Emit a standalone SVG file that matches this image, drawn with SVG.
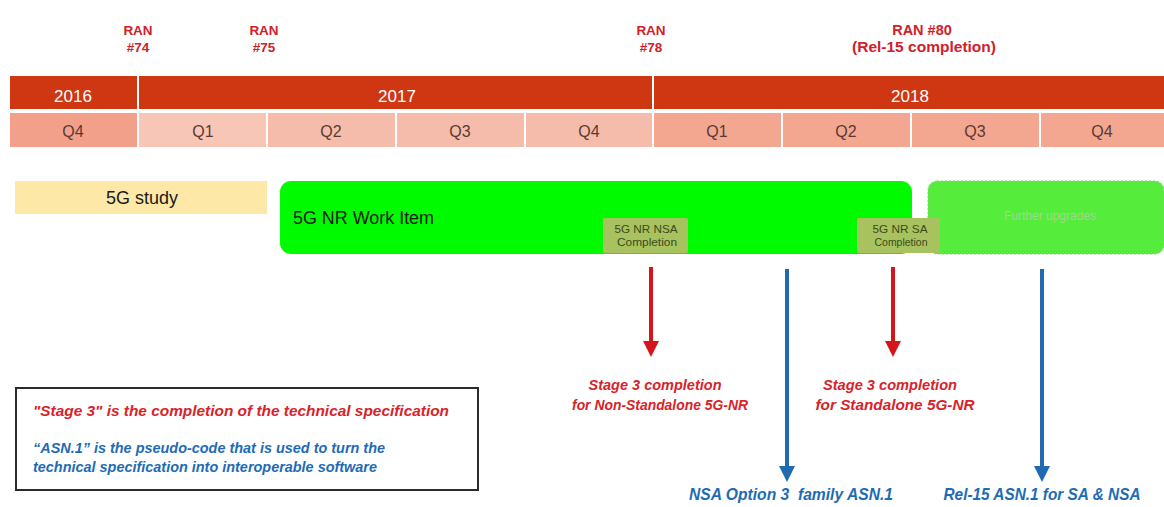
<svg xmlns="http://www.w3.org/2000/svg" width="1164" height="507" viewBox="0 0 1164 507">
<defs>
<style>
text{font-family:"Liberation Sans",Arial,sans-serif}
.ran{fill:#d0202a;font-weight:bold;font-size:13.5px;text-anchor:middle}
.ran80{fill:#d0202a;font-weight:bold;font-size:14.5px;text-anchor:middle}
.yr{fill:#ffffff;font-size:17px;text-anchor:middle}
.q{fill:#5a3a32;font-size:16px;text-anchor:middle}
.bar{fill:#1a1a1a}
.ms{fill:#3d4a1a;font-size:11px;text-anchor:middle}
.red{fill:#d8232a;font-weight:bold;font-style:italic;font-size:14.5px;text-anchor:middle}
.blue{fill:#1e6bb5;font-weight:bold;font-style:italic;font-size:17px;text-anchor:middle}
.lr{fill:#d8232a;font-weight:bold;font-style:italic;font-size:15.3px}
.lb{fill:#1e6bb5;font-weight:bold;font-style:italic;font-size:15.3px}
</style>
<marker id="hr" markerWidth="4" markerHeight="4" refX="2" refY="2" orient="auto" markerUnits="strokeWidth"><path d="M0,0 L4,2 L0,4 Z" fill="#d4161c"/></marker>
<marker id="hb" markerWidth="4" markerHeight="4" refX="2" refY="2" orient="auto" markerUnits="strokeWidth"><path d="M0,0 L4,2 L0,4 Z" fill="#1f6ab0"/></marker>
</defs>
<rect width="1164" height="507" fill="#ffffff"/>

<g id="ran-labels">
<text class="ran" x="138" y="35">RAN</text><text class="ran" x="138" y="52">#74</text>
<text class="ran" x="264" y="35">RAN</text><text class="ran" x="264" y="52">#75</text>
<text class="ran" x="651" y="35">RAN</text><text class="ran" x="651" y="52">#78</text>
<text class="ran80" x="922" y="35">RAN #80</text>
<text class="ran80" x="924" y="52" textLength="144" lengthAdjust="spacingAndGlyphs">(Rel-15 completion)</text>
</g>

<g id="timeline">
<rect x="10" y="76" width="127" height="33" fill="#cf3612"/>
<rect x="139" y="76" width="513" height="33" fill="#cf3612"/>
<rect x="654" y="76" width="510" height="33" fill="#cf3612"/>
<text class="yr" x="73" y="102">2016</text>
<text class="yr" x="397" y="102">2017</text>
<text class="yr" x="910" y="102">2018</text>
<rect x="10" y="113" width="127" height="34" fill="#f2a08a"/>
<rect x="139" y="113" width="127" height="34" fill="#f8c6b7"/>
<rect x="268" y="113" width="127" height="34" fill="#f6bcab"/>
<rect x="397" y="113" width="127" height="34" fill="#f6bcab"/>
<rect x="526" y="113" width="126" height="34" fill="#f6bcab"/>
<rect x="654" y="113" width="127" height="34" fill="#f3a690"/>
<rect x="783" y="113" width="127" height="34" fill="#f3a690"/>
<rect x="912" y="113" width="127" height="34" fill="#f3a690"/>
<rect x="1041" y="113" width="123" height="34" fill="#f3a690"/>
<text class="q" x="73" y="137">Q4</text>
<text class="q" x="203" y="137">Q1</text>
<text class="q" x="331" y="137">Q2</text>
<text class="q" x="460" y="137">Q3</text>
<text class="q" x="589" y="137">Q4</text>
<text class="q" x="717" y="137">Q1</text>
<text class="q" x="846" y="137">Q2</text>
<text class="q" x="975" y="137">Q3</text>
<text class="q" x="1102" y="137">Q4</text>
</g>

<g id="study">
<rect x="15" y="181" width="252" height="33" fill="#fde8a8"/>
<text class="bar" x="142" y="204" font-size="18" text-anchor="middle" textLength="72" lengthAdjust="spacingAndGlyphs">5G study</text>
</g>

<g id="work-item">
<rect x="280" y="181" width="632" height="73" rx="11" fill="#00fa00"/>
<text class="bar" x="293" y="224" font-size="18" textLength="141" lengthAdjust="spacingAndGlyphs">5G NR Work Item</text>
</g>

<g id="further">
<rect x="928" y="181" width="236" height="73" rx="9" fill="#55ec3c" stroke="#7ad86a" stroke-width="1" stroke-dasharray="2 2"/>
<text x="1050" y="220" text-anchor="middle" font-size="12" fill="#9fd890">Further upgrades</text>
</g>

<g id="nsa-completion">
<rect x="603" y="218" width="85" height="35" rx="2" fill="#a7c25e"/>
<text class="ms" x="646" y="233" textLength="63" lengthAdjust="spacingAndGlyphs">5G NR NSA</text>
<text class="ms" x="647" y="246" textLength="60" lengthAdjust="spacingAndGlyphs">Completion</text>
</g>

<g id="sa-completion">
<rect x="857" y="218" width="83" height="35" rx="2" fill="#a7c25e"/>
<text class="ms" x="900" y="233" textLength="55" lengthAdjust="spacingAndGlyphs">5G NR SA</text>
<text class="ms" x="901" y="246" textLength="53" lengthAdjust="spacingAndGlyphs">Completion</text>
</g>

<g id="connectors">
<line x1="651" y1="267" x2="651" y2="349" stroke="#d4161c" stroke-width="4" marker-end="url(#hr)"/>
<line x1="893" y1="267" x2="893" y2="349" stroke="#d4161c" stroke-width="4" marker-end="url(#hr)"/>
<line x1="787" y1="269" x2="787" y2="474" stroke="#1f6ab0" stroke-width="4" marker-end="url(#hb)"/>
<line x1="1042" y1="269" x2="1042" y2="474" stroke="#1f6ab0" stroke-width="4" marker-end="url(#hb)"/>
</g>

<g id="stage3-nsa">
<text class="red" x="655" y="390" textLength="133" lengthAdjust="spacingAndGlyphs">Stage 3 completion</text>
<text class="red" x="660" y="410" textLength="176" lengthAdjust="spacingAndGlyphs">for Non-Standalone 5G-NR</text>
</g>
<g id="stage3-sa">
<text class="red" x="890" y="390" textLength="134" lengthAdjust="spacingAndGlyphs">Stage 3 completion</text>
<text class="red" x="895" y="410" textLength="159" lengthAdjust="spacingAndGlyphs">for Standalone 5G-NR</text>
</g>
<g id="asn-nsa">
<text class="blue" x="791" y="500" textLength="204" lengthAdjust="spacingAndGlyphs">NSA Option 3&#160; family ASN.1</text>
</g>
<g id="asn-rel15">
<text class="blue" x="1042" y="500" textLength="197" lengthAdjust="spacingAndGlyphs">Rel-15 ASN.1 for SA &amp; NSA</text>
</g>

<g id="legend">
<rect x="16" y="388" width="462" height="102" fill="#ffffff" stroke="#2b2b2b" stroke-width="2"/>
<text class="lr" x="33" y="416" textLength="416" lengthAdjust="spacingAndGlyphs">"Stage 3" is the completion of the technical specification</text>
<text class="lb" x="33" y="453" textLength="352" lengthAdjust="spacingAndGlyphs">“ASN.1” is the pseudo-code that is used to turn the</text>
<text class="lb" x="33" y="472" textLength="344" lengthAdjust="spacingAndGlyphs">technical specification into interoperable software</text>
</g>
</svg>
